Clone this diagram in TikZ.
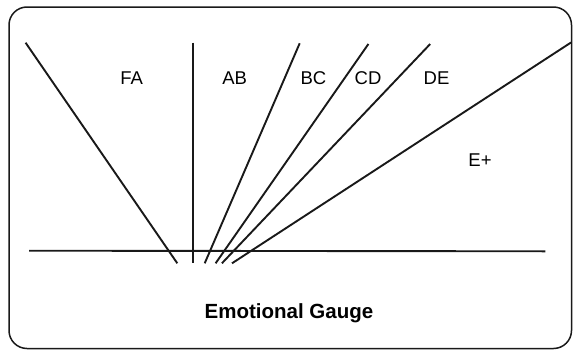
\documentclass[tikz,border=0pt]{standalone}
\usepackage{fontspec}
\setmainfont{Liberation Sans}
\begin{document}
\begin{tikzpicture}[x=1pt,y=-1pt,
  ray/.style={line width=1.9pt,black!90},
  frame/.style={line width=1.5pt,rounded corners=18pt,black!90},
  lbl/.style={font=\fontsize{18.5}{20}\selectfont,inner sep=0pt},
  ttl/.style={font=\bfseries\fontsize{20.5}{23}\selectfont,inner sep=0pt}]
\useasboundingbox (0,0) rectangle (573,351);
\draw[frame] (9,7) rectangle (571.5,348.5);
% ray end points
\coordinate (faT) at (25.6,42.7);  \coordinate (faB) at (177.3,263.3);
\coordinate (vT)  at (193,42.7);   \coordinate (vB)  at (193,263.3);
\coordinate (r3T) at (299.7,43.3); \coordinate (r3B) at (204.7,263.3);
\coordinate (r4T) at (368.4,44);   \coordinate (r4B) at (215.6,263.3);
\coordinate (r5T) at (430.2,44);   \coordinate (r5B) at (221.9,263.3);
\coordinate (r6T) at (571,42.5);   \coordinate (r6B) at (232,263.3);
\coordinate (hL)  at (29.2,250.7); \coordinate (hR)  at (545.3,251.3);
\draw[ray] (faT) -- (faB);
\draw[ray] (vT) -- (vB);
\draw[ray] (r3T) -- (r3B);
\draw[ray] (r4T) -- (r4B);
\draw[ray] (r5T) -- (r5B);
\draw[ray] (r6T) -- (r6B);
\draw[ray] (hL) -- (hR);
% labels
\node[lbl] (FA) at (131.6,77.7) {FA};
\node[lbl] (AB) at (234.7,77.7) {AB};
\node[lbl] (BC) at (313.5,77.7) {BC};
\node[lbl] (CD) at (368,77.7) {CD};
\node[lbl] (DE) at (436.5,77.7) {DE};
\node[lbl] (Ep) at (480,160) {E+};
\node[ttl] (title) at (289,313) {Emotional Gauge};
\end{tikzpicture}
\end{document}
